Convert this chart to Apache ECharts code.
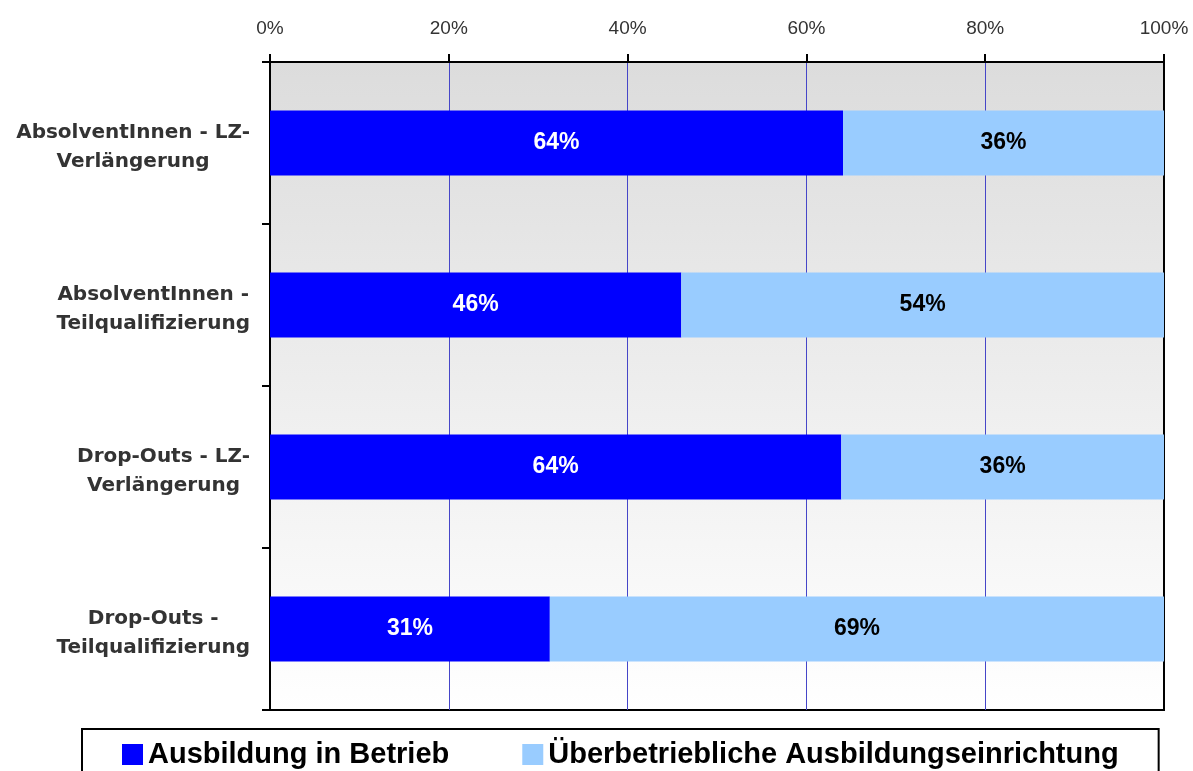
<!DOCTYPE html>
<html>
    <head>
        <meta charset="utf-8">
        <title>Ausbildung</title>
        <script src="https://cdn.jsdelivr.net/npm/echarts@6/dist/echarts.min.js"></script>
        <style>
            html, body { margin: 0; padding: 0; background: #fff; }
            #chart1 { width: 1193px; height: 771px; }
        </style>
    </head>
    <body>
        <div id="chart1"></div>
        <script type="text/javascript">
            var categories = [
                'AbsolventInnen - LZ-\nVerlängerung',
                'AbsolventInnen -\nTeilqualifizierung',
                'Drop-Outs - LZ-\nVerlängerung',
                'Drop-Outs -\nTeilqualifizierung'
            ];
            var seriesNames = ['Ausbildung in Betrieb', 'Überbetriebliche Ausbildungseinrichtung'];
            var betrieb = [64.1, 46.0, 63.9, 31.3];
            var ueberbetrieblich = [35.9, 54.0, 36.1, 68.7];

            var font = 'Liberation Sans, Arial, sans-serif';
            var wideFont = 'DejaVu Sans, Verdana, sans-serif';
            var myChart1 = echarts.init(document.getElementById('chart1'));

            myChart1.setOption({
                animation: false,
                textStyle: { fontFamily: font },
                grid: {
                    left: 270,
                    right: 29,
                    top: 62,
                    bottom: 61,
                    show: true,
                    borderColor: '#000',
                    borderWidth: 2,
                    backgroundColor: {
                        type: 'linear', x: 0, y: 0, x2: 0, y2: 1,
                        colorStops: [
                            { offset: 0, color: '#dcdcdc' },
                            { offset: 1, color: '#ffffff' }
                        ]
                    }
                },
                legend: {
                    data: seriesNames,
                    left: 82,
                    top: 729,
                    icon: 'rect',
                    itemWidth: 21,
                    itemHeight: 21,
                    itemGap: 73,
                    itemTextGap: 8,
                    padding: [11, 40, 20, 40],
                    borderColor: '#000',
                    borderWidth: 2,
                    textStyle: { fontSize: 29, fontWeight: 'bold', color: '#000', fontFamily: font }
                },
                xAxis: {
                    type: 'value',
                    position: 'top',
                    min: 0,
                    max: 100,
                    interval: 20,
                    axisLine: { show: true, lineStyle: { color: '#000', width: 2 } },
                    axisTick: { show: true, length: 8, lineStyle: { color: '#000', width: 2 } },
                    axisLabel: { formatter: '{value}%', fontSize: 19, color: '#333', margin: 24 },
                    splitLine: { show: true, showMinLine: false, showMaxLine: false, lineStyle: { color: '#4646c8', width: 1 } }
                },
                yAxis: {
                    type: 'category',
                    inverse: true,
                    data: categories,
                    axisLine: { show: true, lineStyle: { color: '#000', width: 2 } },
                    axisTick: { show: true, length: 8, lineStyle: { color: '#000', width: 2 } },
                    axisLabel: {
                        margin: 20,
                        padding: [8, 0, 0, 0],
                        formatter: function (v) {
                            return v.split('\n').map(function (s) { return '{a|' + s + '}'; }).join('\n');
                        },
                        rich: {
                            a: { align: 'center', fontSize: 20, fontWeight: 'bold', color: '#333', lineHeight: 29, fontFamily: wideFont }
                        }
                    }
                },
                series: [
                    {
                        name: seriesNames[0],
                        type: 'bar',
                        stack: 'total',
                        barCategoryGap: '60%',
                        data: betrieb,
                        itemStyle: { color: '#0000ff' },
                        label: {
                            show: true, position: 'inside', color: '#fff', fontSize: 23, fontWeight: 'bold',
                            formatter: function (p) { return Math.round(p.value) + '%'; }
                        }
                    },
                    {
                        name: seriesNames[1],
                        type: 'bar',
                        stack: 'total',
                        barCategoryGap: '60%',
                        data: ueberbetrieblich,
                        itemStyle: { color: '#99ccff' },
                        label: {
                            show: true, position: 'inside', color: '#000', fontSize: 23, fontWeight: 'bold',
                            formatter: function (p) { return Math.round(p.value) + '%'; }
                        }
                    }
                ]
            });
        </script>
    </body>
</html>
